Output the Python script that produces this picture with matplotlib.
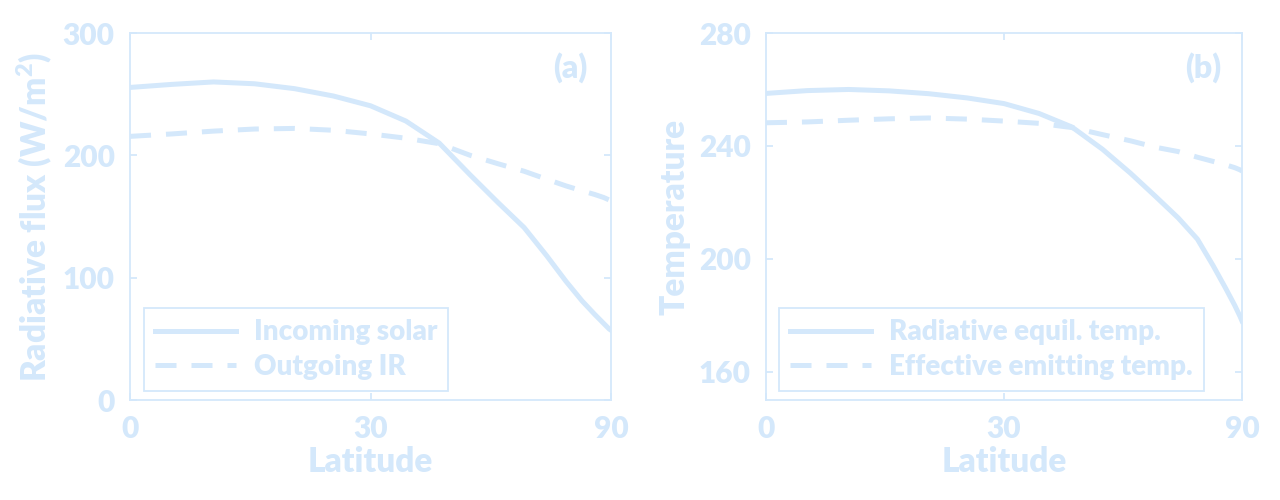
import matplotlib
matplotlib.use('Agg')
import matplotlib.pyplot as plt
import numpy as np

# Latitude grid (degrees) and values
lat = [0, 5, 10, 15, 20, 25, 30, 35, 40, 45, 50, 55, 60, 65, 70, 75, 80, 85, 90]

# (a) radiative flux, W/m^2
incoming_solar = [255.5, 258, 260, 258.5, 254.5, 248.5, 240.5, 228, 210, 184, 161, 141, 118, 97, 81, 70, 62.5, 58, 57]
outgoing_ir = [215.5, 217.5, 219.8, 221.5, 222, 220.5, 217.5, 214, 209.5, 200, 193, 187, 180.5, 175, 171, 168, 165.5, 163.5, 162.5]

# (b) temperature, K
rad_equil_temp = [258.6, 259.6, 260, 259.5, 258.5, 257, 255, 251.5, 246.7, 238.8, 230.3, 222, 214.5, 207, 197.5, 189.5, 183.5, 179.5, 178]
eff_emit_temp = [248.2, 248.5, 249.1, 249.6, 249.9, 249.5, 248.8, 248, 246.5, 244, 241.8, 239.5, 238, 236, 234.5, 233.3, 232.3, 231.5, 231.1]

x_ticks = [0, 30, 90]

col = '#d4e8fb'
plt.rcParams['font.family'] = ['Lato', 'DejaVu Sans']
plt.rcParams['font.weight'] = 'heavy'
plt.rcParams['axes.labelweight'] = 'heavy'
plt.rcParams['mathtext.default'] = 'regular'


def fwd(d):
    return np.sin(np.radians(d))


def inv(s):
    return np.degrees(np.arcsin(np.clip(s, -1, 1)))


fig = plt.figure(figsize=(12.8, 5.0), dpi=100)
ax1 = fig.add_axes([0.1016, 0.2, 0.3758, 0.734])
ax2 = fig.add_axes([0.5984, 0.2, 0.3719, 0.734])


def style(ax):
    ax.set_xscale('function', functions=(fwd, inv))
    ax.set_xlim(0, 90)
    ax.set_xticks(x_ticks)
    ax.set_xticklabels([str(t) for t in x_ticks])
    for sp in ax.spines.values():
        sp.set_color(col)
        sp.set_linewidth(1.3)
    ax.tick_params(direction='in', length=5, width=1.3, color=col, labelcolor=col,
                   labelsize=21.5, top=True, right=True, pad=11)
    ax.set_xlabel('Latitude', color=col, fontsize=24, labelpad=2)


style(ax1)
ax1.plot(lat, incoming_solar, color=col, lw=3.6, label='Incoming solar')
ax1.plot(lat, outgoing_ir, color=col, lw=3.6, dashes=(4.2, 3), label='Outgoing IR')
ax1.set_ylim(0, 300)
ax1.set_yticks([0, 100, 200, 300])
ax1.set_ylabel('Radiative flux (W/m$^2$)', color=col, fontsize=24, labelpad=6)
ax1.text(0.915, 0.905, '(a)', transform=ax1.transAxes, color=col, fontsize=23,
         ha='center', va='center')

style(ax2)
ax2.plot(lat, rad_equil_temp, color=col, lw=3.6, label='Radiative equil. temp.')
ax2.plot(lat, eff_emit_temp, color=col, lw=3.6, dashes=(4.2, 3), label='Effective emitting temp.')
ax2.set_ylim(150, 280)
ax2.set_yticks([160, 200, 240, 280])
ax2.set_ylabel('Temperature', color=col, fontsize=24, labelpad=6)
ax2.text(0.918, 0.905, '(b)', transform=ax2.transAxes, color=col, fontsize=23,
         ha='center', va='center')

for ax, anchor in ((ax1, (0.029, 0.025)), (ax2, (0.028, 0.025))):
    leg = ax.legend(loc='lower left', bbox_to_anchor=anchor, borderaxespad=0,
                    fontsize=20, handlelength=2.9, handletextpad=0.65,
                    labelspacing=0.3, borderpad=0.4, fancybox=False,
                    framealpha=1, edgecolor=col)
    leg.get_frame().set_linewidth(1.3)
    for t in leg.get_texts():
        t.set_color(col)

fig.savefig('out.png', dpi=100, facecolor='white')
